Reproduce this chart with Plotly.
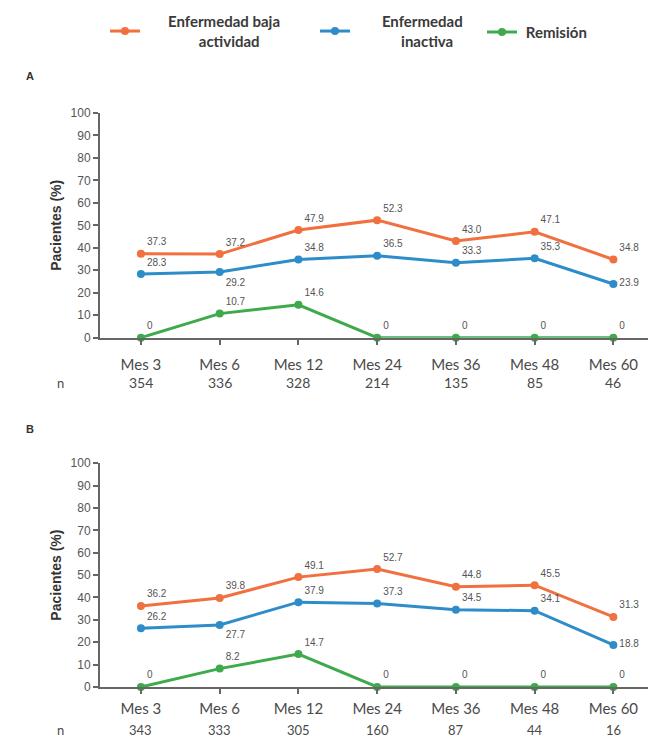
import plotly.graph_objects as go

months = ["Mes 3", "Mes 6", "Mes 12", "Mes 24", "Mes 36", "Mes 48", "Mes 60"]
n_a = ["354", "336", "328", "214", "135", "85", "46"]
n_b = ["343", "333", "305", "160", "87", "44", "16"]

baja_a = [37.3, 37.2, 47.9, 52.3, 43.0, 47.1, 34.8]
inact_a = [28.3, 29.2, 34.8, 36.5, 33.3, 35.3, 23.9]
remis_a = [0, 10.7, 14.6, 0, 0, 0, 0]

baja_b = [36.2, 39.8, 49.1, 52.7, 44.8, 45.5, 31.3]
inact_b = [26.2, 27.7, 37.9, 37.3, 34.5, 34.1, 18.8]
remis_b = [0, 8.2, 14.7, 0, 0, 0, 0]

NB = "\u00a0"
series_names = [
    NB * 6 + "<b>Enfermedad baja</b><br>" + NB * 14 + "<b>actividad</b>",
    NB * 7 + "<b>Enfermedad</b><br>" + NB * 12 + "<b>inactiva</b>",
    NB + "<b>Remisión</b>",
]
colors = ["#F0703F", "#2E8CC8", "#3FAA4B"]
legend_ids = ["legend", "legend2", "legend3"]

W, H = 654, 744
def px_x(p): return p / W
def px_y(p): return 1 - p / H

xs = list(range(len(months)))

fig = go.Figure()

def fmt(v):
    return "0" if v == 0 else f"{v:.1f}"

panels = [
    ("x", "y", baja_a, inact_a, remis_a, True),
    ("x2", "y2", baja_b, inact_b, remis_b, False),
]
for xa, ya, baja, inact, remis, show in panels:
    for i, (vals, name) in enumerate(zip([baja, inact, remis], series_names)):
        pos = ["top right"] * len(vals)
        if i == 1:
            pos[1] = "bottom right"
            pos[6] = "middle right"
        fig.add_trace(go.Scatter(
            x=xs, y=vals, mode="lines+markers+text", name=name,
            text=[fmt(v) for v in vals], textposition=pos,
            textfont=dict(size=10, color="#555555", family="Liberation Sans"),
            line=dict(color=colors[i], width=3),
            marker=dict(color=colors[i], size=8),
            xaxis=xa, yaxis=ya, showlegend=show, cliponaxis=False,
            legend=legend_ids[i],
        ))

xdom = [px_x(100), px_x(648)]
xrange_ = [-0.52, 6.44]
def axis_x(standoff):
    return dict(
        tickmode="array", tickvals=xs, ticktext=months, range=xrange_,
        showline=True, linecolor="#666666", linewidth=2, ticks="outside",
        ticklen=5, tickcolor="#666666", tickwidth=1.5, showgrid=False, zeroline=False,
        tickfont=dict(size=15, color="#4a4a4a", family="Lato"), ticklabelstandoff=standoff,
    )
axis_common_y = dict(
    range=[0, 100], tickvals=list(range(0, 101, 10)), showline=True,
    linecolor="#666666", linewidth=2, ticks="outside", ticklen=5,
    tickcolor="#666666", tickwidth=1.5, showgrid=False, zeroline=False,
    tickfont=dict(size=12, color="#555555", family="Liberation Sans"),
    title=dict(text="<b>Pacientes (%)</b>", font=dict(size=14, color="#333333", family="Liberation Sans"), standoff=6),
)

legfont = dict(size=15, color="#3a3a3a", family="Lato")
def leg(xpx, ypx):
    return dict(orientation="h", x=px_x(xpx), y=px_y(ypx), xanchor="left", yanchor="top",
                font=legfont, itemwidth=30, bgcolor="rgba(0,0,0,0)")

fig.update_layout(
    width=W, height=H, margin=dict(l=0, r=0, t=0, b=0),
    paper_bgcolor="white", plot_bgcolor="white",
    xaxis=dict(domain=xdom, anchor="y", **axis_x(7)),
    yaxis=dict(domain=[px_y(337), px_y(108)], anchor="x", **axis_common_y),
    xaxis2=dict(domain=xdom, anchor="y2", **axis_x(2)),
    yaxis2=dict(domain=[px_y(693), px_y(465)], anchor="x2", **axis_common_y),
    legend=leg(105, -2),
    legend2=leg(315, -2),
    legend3=leg(482, 9),
    showlegend=True,
)

annotations = []
for xa, ny, nvals in [("x", 383, n_a), ("x2", 737, n_b)]:
    for x, t in zip(xs, nvals):
        annotations.append(dict(x=x, y=px_y(ny), xref=xa, yref="paper", text=t,
                                showarrow=False, font=dict(size=14 if xa == "x" else 13, color="#4a4a4a", family="Lato"),
                                xanchor="center", yanchor="middle"))
    annotations.append(dict(x=px_x(60), y=px_y(ny), xref="paper", yref="paper", text="n",
                            showarrow=False, font=dict(size=13, color="#4a4a4a", family="Lato"),
                            xanchor="center", yanchor="middle"))
for lbl, py in [("A", 70), ("B", 430)]:
    annotations.append(dict(x=px_x(30), y=px_y(py), xref="paper", yref="paper", text=f"<b>{lbl}</b>",
                            showarrow=False, font=dict(size=11, color="#333333", family="Liberation Sans"),
                            xanchor="center", yanchor="middle"))
fig.update_layout(annotations=annotations)

fig.write_html("out.html")
